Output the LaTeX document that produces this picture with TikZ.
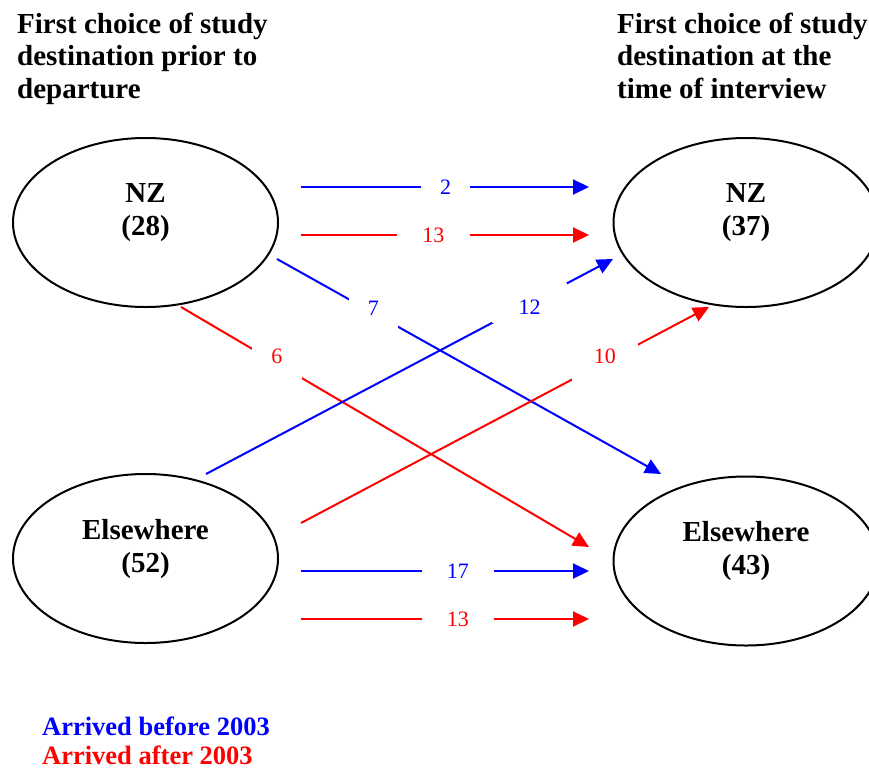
\documentclass[tikz,border=0pt]{standalone}
\usepackage{fontspec}
\setmainfont{Liberation Serif}
\usetikzlibrary{shapes.geometric}
\usetikzlibrary{arrows.meta}
\usetikzlibrary{positioning}

\begin{document}
\begin{tikzpicture}[x=1pt,y=-1pt,
  place/.style={draw=black,line width=2pt,ellipse,minimum width=265pt,minimum height=169pt,inner sep=0pt},
  placetxt/.style={font=\fontsize{29}{33}\selectfont\bfseries,align=center,inner sep=0pt},
  title/.style={font=\fontsize{29}{32.5}\selectfont\bfseries,align=left,anchor=north west,inner sep=0pt},
  legend/.style={font=\fontsize{26.5}{30}\selectfont\bfseries,anchor=base west,inner sep=0pt},
  flow/.style={line width=2pt,-{Triangle[length=16pt,width=15pt]}},
  num/.style={font=\fontsize{22}{24}\selectfont,fill=white,inner sep=0pt,minimum height=22pt},
  dnum/.style={num,minimum height=40pt}]
\useasboundingbox (0,0) rectangle (869,769);

\node[title] (titlePrior) at (17,12.5) {First choice of study\\destination prior to\\departure};
\node[title] (titleNow) at (617,12.5) {First choice of study\\destination at the\\time of interview};

\node[place] (nzPrior) at (145.5,222.5) {};
\node[place] (elPrior) at (145.5,558.5) {};
\node[place] (nzNow) at (746,222.5) {};
\node[place] (elNow) at (746,561) {};
\node[placetxt,yshift=9.5pt] (nzPriorT) at (nzPrior) {NZ\\(28)};
\node[placetxt,yshift=9.5pt] (elPriorT) at (elPrior) {Elsewhere\\(52)};
\node[placetxt,yshift=9.5pt] (nzNowT) at (nzNow) {NZ\\(37)};
\node[placetxt,yshift=9.5pt] (elNowT) at (elNow) {Elsewhere\\(43)};

\coordinate (bnnS) at (301,187); \coordinate (bnnE) at (589,187);
\coordinate (rnnS) at (301,235); \coordinate (rnnE) at (589,235);
\coordinate (bneS) at (277,259); \coordinate (bneE) at (661,474);
\coordinate (rneS) at (181,307); \coordinate (rneE) at (589,547);
\coordinate (benS) at (206,474); \coordinate (benE) at (613,259);
\coordinate (renS) at (301,523); \coordinate (renE) at (709,307);
\coordinate (beeS) at (301,571); \coordinate (beeE) at (589,571);
\coordinate (reeS) at (301,619); \coordinate (reeE) at (589,619);

\draw[blue,flow] (bnnS) -- node[num,pos=0.502,minimum width=49pt] (lbnn) {2} (bnnE);
\draw[red,flow] (rnnS) -- node[num,pos=0.46,minimum width=73pt] (lrnn) {13} (rnnE);
\draw[blue,flow] (bneS) -- node[dnum,pos=0.251,minimum width=49pt,text depth=10pt] (lbne) {7} (bneE);
\draw[red,flow] (rneS) -- node[dnum,pos=0.235,minimum width=50pt,text depth=14pt] (lrne) {6} (rneE);
\draw[blue,flow] (benS) -- node[dnum,pos=0.795,minimum width=75pt,text height=23pt] (lben) {12} (benE);
\draw[red,flow] (renS) -- node[dnum,pos=0.745,minimum width=66pt,text depth=12pt] (lren) {10} (renE);
\draw[blue,flow] (beeS) -- node[num,pos=0.545,minimum width=72pt] (lbee) {17} (beeE);
\draw[red,flow] (reeS) -- node[num,pos=0.545,minimum width=72pt] (lree) {13} (reeE);

\node[legend,text=blue] (legBefore) at (42,735) {Arrived before 2003};
\node[legend,text=red] (legAfter) at (42,764) {Arrived after 2003};

\end{tikzpicture}
\end{document}
